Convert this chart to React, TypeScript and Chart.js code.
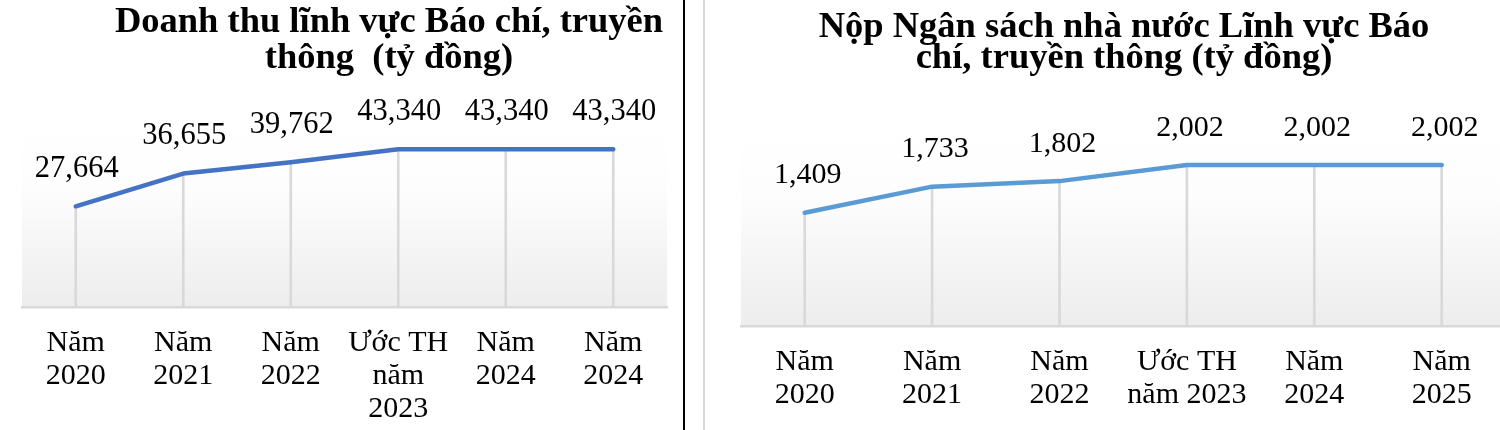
import React, { useEffect, useRef } from "react";
import { Chart, registerables } from "chart.js";

Chart.register(...registerables);

// ---------- data ----------
const leftCategories = [
  ["Năm", "2020"],
  ["Năm", "2021"],
  ["Năm", "2022"],
  ["Ước TH", "năm", "2023"],
  ["Năm", "2024"],
  ["Năm", "2024"],
];
const leftValues = [27664, 36655, 39762, 43340, 43340, 43340];
const leftTitle = ["Doanh thu lĩnh vực Báo chí, truyền", "thông  (tỷ đồng)"];
const leftYMax = 50000;

const rightCategories = [
  ["Năm", "2020"],
  ["Năm", "2021"],
  ["Năm", "2022"],
  ["Ước TH", "năm 2023"],
  ["Năm", "2024"],
  ["Năm", "2025"],
];
const rightValues = [1409, 1733, 1802, 2002, 2002, 2002];
const rightTitle = ["Nộp Ngân sách nhà nước Lĩnh vực Báo", "chí, truyền thông (tỷ đồng)"];
const rightYMax = 2500;

const SERIF = '"Liberation Serif", "Times New Roman", serif';

// ---------- plugins ----------
const bgPlugin = {
  id: "bgGrad",
  beforeDraw(chart: any) {
    const { ctx, chartArea } = chart;
    if (!chartArea) return;
    const g = ctx.createLinearGradient(0, chartArea.top, 0, chartArea.bottom);
    g.addColorStop(0, "#ffffff");
    g.addColorStop(0.35, "#fdfdfd");
    g.addColorStop(1, "#ededed");
    ctx.save();
    ctx.fillStyle = g;
    ctx.fillRect(chartArea.left, chartArea.top, chartArea.right - chartArea.left, chartArea.bottom - chartArea.top);
    ctx.restore();
  },
};

const labelPlugin = {
  id: "valueLabels",
  afterDatasetsDraw(chart: any, _args: any, opts: any) {
    const { ctx } = chart;
    const meta = chart.getDatasetMeta(0);
    const data = chart.data.datasets[0].data;
    ctx.save();
    ctx.font = `${opts.size || 30}px ${SERIF}`;
    ctx.fillStyle = "#000";
    ctx.textAlign = "center";
    ctx.textBaseline = "alphabetic";
    meta.data.forEach((pt: any, i: number) => {
      const v = Number(data[i]).toLocaleString("en-US");
      ctx.fillText(v, pt.x + (opts.dx || 0), pt.y - (opts.dy || 29));
    });
    ctx.restore();
  },
};

const titlePlugin = {
  id: "titleLines",
  afterDraw(chart: any, _args: any, opts: any) {
    const { ctx } = chart;
    ctx.save();
    ctx.font = `bold ${opts.size}px ${SERIF}`;
    ctx.fillStyle = "#000";
    ctx.textAlign = "center";
    ctx.textBaseline = "alphabetic";
    (opts.lines || []).forEach((line: string, i: number) => {
      ctx.fillText(line, opts.cx, opts.baselines[i]);
    });
    ctx.restore();
  },
};

function makeChart(canvas: HTMLCanvasElement, p: any) {
  return new Chart(canvas, {
    type: "line",
    data: {
      labels: p.labels,
      datasets: [
        {
          type: "line",
          data: p.values,
          borderColor: p.color,
          borderWidth: 4.5,
          pointRadius: 0,
          pointHoverRadius: 0,
          tension: 0,
          borderCapStyle: "round",
          borderJoinStyle: "round",
          fill: false,
          order: 0,
        },
        {
          type: "bar",
          data: p.values,
          backgroundColor: "#d9d9d9",
          barThickness: 2,
          order: 1,
        },
      ],
    } as any,
    options: {
      responsive: false,
      animation: false,
      devicePixelRatio: 1,
      layout: { padding: { left: p.padL, right: p.padR, top: 125, bottom: 0 } },
      plugins: {
        legend: { display: false },
        tooltip: { enabled: false },
        title: { display: false },
        valueLabels: { dx: p.labelDx, dy: 29.5, size: p.labelSize },
        titleLines: { lines: p.title, cx: p.titleCx, baselines: p.titleBaselines, size: 36.5 },
      } as any,
      scales: {
        x: {
          type: "category",
          offset: true,
          grid: { display: false, drawTicks: false },
          border: { display: true, color: "#d9d9d9", width: 2.5 },
          ticks: {
            color: "#000",
            font: { family: SERIF, size: 30, lineHeight: 1.1 },
            padding: p.tickPad,
            autoSkip: false,
            maxRotation: 0,
            minRotation: 0,
          },
          afterFit: (s: any) => {
            s.height = p.axisH;
          },
        },
        y: { display: false, min: 0, max: p.yMax },
      },
    } as any,
    plugins: [bgPlugin, labelPlugin, titlePlugin],
  });
}

export default function App() {
  const leftRef = useRef<HTMLCanvasElement>(null);
  const rightRef = useRef<HTMLCanvasElement>(null);

  useEffect(() => {
    const c1 = makeChart(leftRef.current!, {
      labels: leftCategories,
      values: leftValues,
      color: "#4472C4",
      padL: 22,
      padR: 17,
      axisH: 123,
      tickPad: 20,
      yMax: leftYMax,
      labelDx: 1,
      labelSize: 30.5,
      title: leftTitle,
      titleCx: 389,
      titleBaselines: [32, 68],
    });
    const c2 = makeChart(rightRef.current!, {
      labels: rightCategories,
      values: rightValues,
      color: "#5B9BD5",
      padL: 41,
      padR: 4.6,
      axisH: 104,
      tickPad: 20,
      yMax: rightYMax,
      labelDx: 3,
      labelSize: 30,
      title: rightTitle,
      titleCx: 424,
      titleBaselines: [37, 68],
    });
    return () => {
      c1.destroy();
      c2.destroy();
    };
  }, []);

  return (
    <div
      style={{
        position: "absolute",
        left: 0,
        top: 0,
        width: 1500,
        height: 430,
        overflow: "hidden",
        background: "#ffffff",
      }}
    >
      <canvas ref={leftRef} width={684} height={430} style={{ position: "absolute", left: 0, top: 0 }} />
      <div style={{ position: "absolute", left: 683, top: 0, width: 2, height: 430, background: "#000" }} />
      <div style={{ position: "absolute", left: 703, top: 0, width: 2, height: 430, background: "#d9d9d9" }} />
      <canvas ref={rightRef} width={810} height={430} style={{ position: "absolute", left: 700, top: 0 }} />
    </div>
  );
}
